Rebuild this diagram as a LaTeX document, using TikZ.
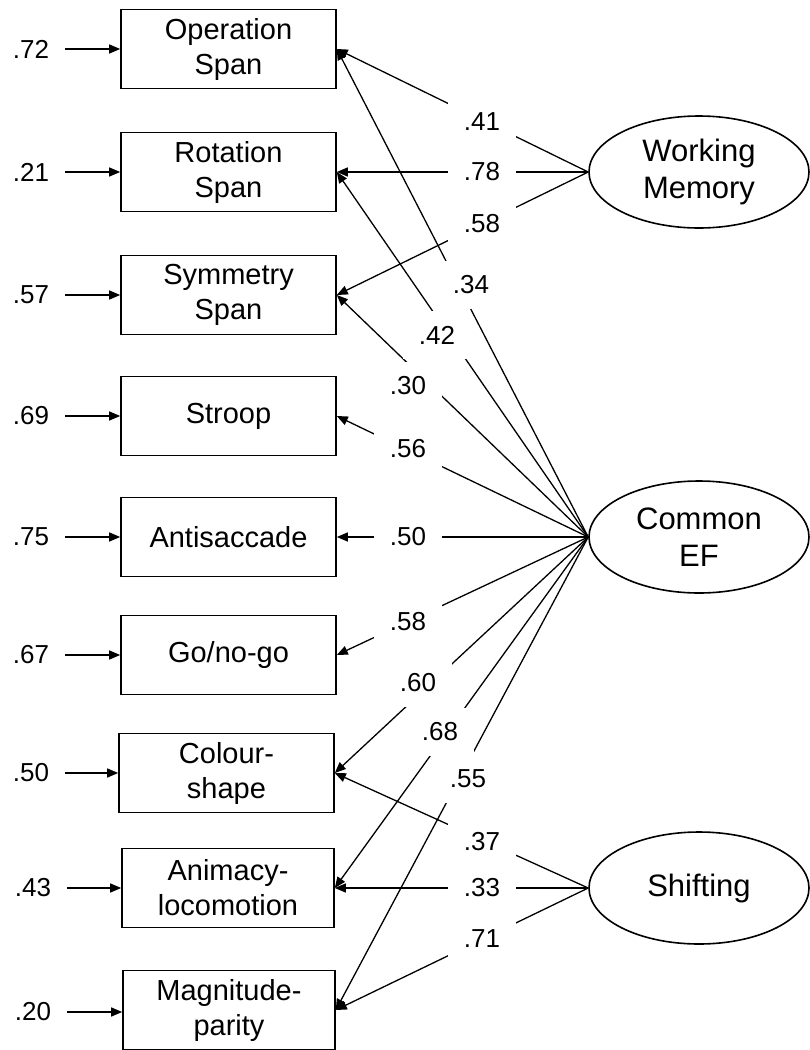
\documentclass[tikz,border=0pt]{standalone}
\usepackage{fontspec}
\setmainfont{Liberation Sans}
\usetikzlibrary{shapes.geometric,arrows.meta}
\newcommand{\boxfnt}{\fontsize{29}{35}\selectfont}
\newcommand{\latfnt}{\fontsize{31}{37}\selectfont}
\newcommand{\lblfnt}{\fontsize{26}{30}\selectfont}
\begin{document}
\begin{tikzpicture}[x=1pt,y=-1pt,
  box/.style={draw, line width=1.6pt, minimum width=215pt, minimum height=79pt, inner sep=0pt, align=center, font=\boxfnt},
  lat/.style={draw, ellipse, line width=1.6pt, minimum width=220pt, minimum height=112pt, inner sep=0pt, align=center, font=\latfnt},
  lbl/.style={fill=white, inner sep=0pt, minimum width=68pt, minimum height=48pt, font=\lblfnt},
  err/.style={font=\lblfnt, inner xsep=16pt, inner ysep=0pt},
  arr/.style={line width=1.3pt, -{Triangle[length=11pt,width=9pt]}}]
\useasboundingbox (0,0) rectangle (810,1050);
% observed variables
\node[box] (op)  at (228.5,49)  {Operation\\Span};
\node[box] (rot) at (228.5,172) {Rotation\\Span};
\node[box] (sym) at (228.5,295) {Symmetry\\Span};
\node[box] (str) at (228.5,416) {Stroop};
\node[box] (ant) at (228.5,537) {Antisaccade};
\node[box] (go)  at (228.5,655) {Go/no-go};
\node[box] (col) at (226.5,773) {Colour-\\shape};
\node[box, minimum width=212pt] (ani) at (228,888) {Animacy-\\locomotion};
\node[box, minimum width=212pt] (mag) at (229,1010) {Magnitude-\\parity};
% latent variables
\node[lat] (wm)  at (699,172) {Working\\Memory};
\node[lat] (cef) at (699,537) {Common\\EF};
\node[lat] (sh)  at (699,888) {Shifting};
% error terms
\node[err] (e1) at (31,49)   {.72};
\node[err] (e2) at (31,172)  {.21};
\node[err] (e3) at (31,295)  {.57};
\node[err] (e4) at (31,416)  {.69};
\node[err] (e5) at (31,537)  {.75};
\node[err] (e6) at (31,655)  {.67};
\node[err] (e7) at (31,773)  {.50};
\node[err] (e8) at (33,888)  {.43};
\node[err] (e9) at (33,1012) {.20};
\draw[arr] (e1) -- (op);
\draw[arr] (e2) -- (rot);
\draw[arr] (e3) -- (sym);
\draw[arr] (e4) -- (str);
\draw[arr] (e5) -- (ant);
\draw[arr] (e6) -- (go);
\draw[arr] (e7) -- (col);
\draw[arr] (e8) -- (ani);
\draw[arr] (e9.east) -- (mag.west |- e9.east);
% loadings
\draw[arr] (wm.west) -- (op.east);
\draw[arr] (wm.west) -- (rot.east);
\draw[arr] (wm.west) -- (sym.east);
\draw[arr] (cef.west) -- (op.east);
\draw[arr] (cef.west) -- (rot.east);
\draw[arr] (cef.west) -- (sym.east);
\draw[arr] (cef.west) -- (str.east);
\draw[arr] (cef.west) -- (ant.east);
\draw[arr] (cef.west) -- (go.east);
\draw[arr] (cef.west) -- (col.east);
\draw[arr] (cef.west) -- (ani.east);
\draw[arr] (cef.west) -- (mag.east);
\draw[arr] (sh.west) -- (col.east);
\draw[arr] (sh.west) -- (ani.east);
\draw[arr] (sh.west) -- (mag.east);
% loading labels
\node[lbl] (w1) at (482,122) {.41};
\node[lbl] (w2) at (482,172) {.78};
\node[lbl] (w3) at (482,224) {.58};
\node[lbl] (c1) at (471,285) {.34};
\node[lbl] (c2) at (437,335) {.42};
\node[lbl] (c3) at (408,386) {.30};
\node[lbl] (c4) at (408,449) {.56};
\node[lbl] (c5) at (408,537) {.50};
\node[lbl] (c6) at (408,622) {.58};
\node[lbl] (c7) at (418,683) {.60};
\node[lbl] (c8) at (440,732) {.68};
\node[lbl] (c9) at (468,779) {.55};
\node[lbl] (s1) at (482,842) {.37};
\node[lbl] (s2) at (482,888) {.33};
\node[lbl] (s3) at (482,939) {.71};
\end{tikzpicture}
\end{document}
